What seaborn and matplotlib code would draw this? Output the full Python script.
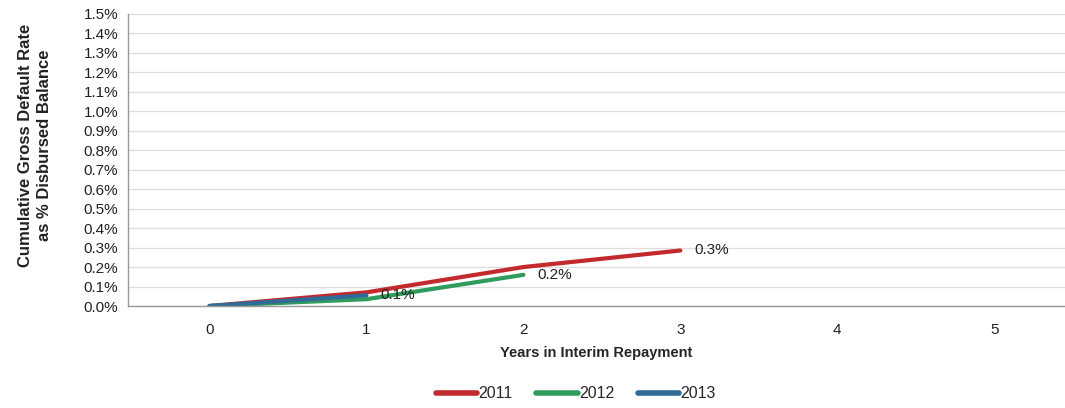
import matplotlib
matplotlib.use('Agg')
import matplotlib.pyplot as plt
import seaborn as sns
import pandas as pd

# values (cumulative default rate, %)
years_2011 = [0, 1, 2, 3]
rate_2011 = [0.0, 0.07, 0.20, 0.285]
years_2012 = [0, 1, 2]
rate_2012 = [0.0, 0.035, 0.16]
years_2013 = [0, 1]
rate_2013 = [0.0, 0.055]

cohorts = ['2011', '2012', '2013']
colors = ['#C22A2E', '#2F9C5E', '#2F6B96']
end_labels = ['0.3%', '0.2%', '0.1%']

rows = []
for c, xs, ys in zip(cohorts, [years_2011, years_2012, years_2013], [rate_2011, rate_2012, rate_2013]):
    for x, y in zip(xs, ys):
        rows.append({'Year': x, 'Rate': y, 'Cohort': c})
df = pd.DataFrame(rows)

sns.set_style('white')
plt.rcParams['font.family'] = ['Liberation Sans', 'DejaVu Sans']

fig = plt.figure(figsize=(10.65, 4.08), dpi=100)
ax = fig.add_axes([0.120, 0.25, 0.88, 0.716])

sns.lineplot(data=df, x='Year', y='Rate', hue='Cohort', palette=colors,
             linewidth=3, ax=ax, legend=True)

# end-of-line labels
for c, lab in zip(cohorts, end_labels):
    d = df[df['Cohort'] == c]
    ax.text(d['Year'].iloc[-1] + 0.09, d['Rate'].iloc[-1], lab,
            fontsize=11, va='center', ha='left', color='#222222')

ax.set_xlim(-0.52, 5.45)
ax.set_ylim(0, 1.5)
ax.set_xticks(range(6))
ax.set_yticks([i / 10 for i in range(16)])
ax.set_yticklabels([f'{i / 10:.1f}%' for i in range(16)])
ax.tick_params(axis='both', labelsize=11, colors='#222222')
ax.tick_params(axis='y', length=4, color='#999999', width=0.8, pad=3)
ax.tick_params(axis='x', length=0, pad=12)

ax.grid(axis='y', color='#dddddd', linewidth=0.9)
ax.set_axisbelow(True)
for s in ['top', 'right']:
    ax.spines[s].set_visible(False)
for s in ['left', 'bottom']:
    ax.spines[s].set_color('#999999')
    ax.spines[s].set_linewidth(1.0)

ax.set_xlabel('Years in Interim Repayment', fontsize=10.5, fontweight='bold', labelpad=7)
ax.set_ylabel('Cumulative Gross Default Rate\nas % Disbursed Balance', fontsize=12,
              fontweight='bold', linespacing=1.35, color='#222222')
ax.yaxis.set_label_coords(-0.081, 0.55)

leg = ax.legend(loc='upper center', bbox_to_anchor=(0.478, -0.225), ncol=3,
                frameon=False, fontsize=11.5, handlelength=2.6, handletextpad=0.05,
                columnspacing=1.5)
for line in leg.get_lines():
    line.set_linewidth(4)

fig.savefig('out.png', dpi=100)
